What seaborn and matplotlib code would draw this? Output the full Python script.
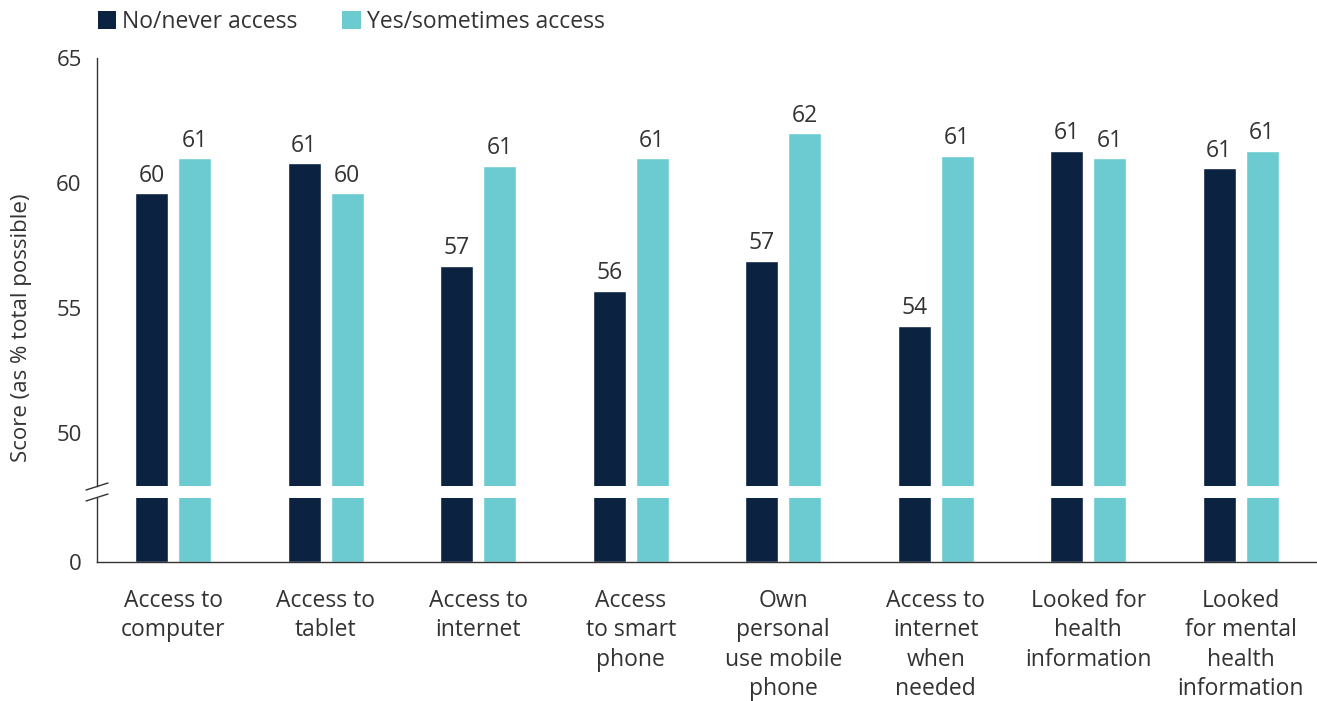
import matplotlib
matplotlib.use("Agg")
import matplotlib.pyplot as plt
from matplotlib.lines import Line2D
from matplotlib.patches import Patch
import pandas as pd
import seaborn as sns

# ---- data -------------------------------------------------------------
categories = [
    "Access to\ncomputer",
    "Access to\ntablet",
    "Access to\ninternet",
    "Access\nto smart\nphone",
    "Own\npersonal\nuse mobile\nphone",
    "Access to\ninternet\nwhen\nneeded",
    "Looked for\nhealth\ninformation",
    "Looked\nfor mental\nhealth\ninformation",
]
series_names = ["No/never access", "Yes/sometimes access"]
no_never = [59.6, 60.8, 56.7, 55.7, 56.9, 54.3, 61.3, 60.6]
yes_sometimes = [61.0, 59.6, 60.7, 61.0, 62.0, 61.1, 61.0, 61.3]
upper_ticks = [50, 55, 60, 65]
lower_ticks = [0]

colors = ["#0b2240", "#6ccbd0"]
text_color = "#333333"
label_size = 16.5
tick_size = 16

sns.set_theme(style="white")
plt.rcParams["font.family"] = ["Open Sans", "DejaVu Sans"]
plt.rcParams["text.color"] = text_color
plt.rcParams["axes.labelcolor"] = text_color
plt.rcParams["xtick.color"] = text_color
plt.rcParams["ytick.color"] = text_color

df = pd.DataFrame({
    "category": categories * 2,
    "group": [series_names[0]] * len(categories) + [series_names[1]] * len(categories),
    "score": no_never + yes_sometimes,
})

W, H = 1317, 701
fig = plt.figure(figsize=(W / 100, H / 100), dpi=100)

left = 97 / W
width = 1 - left
top_axes = fig.add_axes([left, 1 - 486 / H, width, (486 - 58) / H])
bot_axes = fig.add_axes([left, 1 - 562 / H, width, (562 - 498) / H])

for ax in (top_axes, bot_axes):
    sns.barplot(data=df, x="category", y="score", hue="group",
                palette=colors, saturation=1, errorbar=None,
                width=0.564, gap=0.234, legend=False, ax=ax)
    ax.set_xlim(-0.5, len(categories) - 0.5)
    ax.set_xlabel("")
    ax.set_ylabel("")
    for side in ("top", "right"):
        ax.spines[side].set_visible(False)
    ax.spines["left"].set_color(text_color)
    ax.spines["left"].set_linewidth(1.0)
    ax.tick_params(axis="y", length=0, pad=11, labelsize=tick_size)

# upper section of the broken axis
top_axes.set_ylim(47.9, 65)
top_axes.set_yticks(upper_ticks)
top_axes.spines["bottom"].set_visible(False)
top_axes.tick_params(axis="x", length=0, labelbottom=False)
for cont in top_axes.containers:
    top_axes.bar_label(cont, fmt="%.0f", padding=4, fontsize=label_size,
                       color=text_color)

# lower stub section
bot_axes.set_ylim(0, 10)
bot_axes.set_yticks(lower_ticks)
bot_axes.spines["bottom"].set_color(text_color)
bot_axes.spines["bottom"].set_linewidth(1.0)
bot_axes.tick_params(axis="x", length=0, pad=19.5, labelsize=label_size)
for lab in bot_axes.get_xticklabels():
    lab.set_linespacing(1.3)
    lab.set_va("top")
    lab.set_ha("center")

# break marks on the y axis
half_w = 11 / W
rise = 3.5 / H
for yb in (1 - 486.5 / H, 1 - 497.5 / H):
    fig.add_artist(Line2D([left - half_w, left + half_w], [yb - rise, yb + rise],
                          transform=fig.transFigure, color=text_color, lw=1.0))

fig.text(22 / W, 1 - 328 / H, "Score (as % total possible)", rotation=90,
         ha="center", va="center", fontsize=tick_size, color=text_color)

handles = [Patch(facecolor=c, edgecolor="none") for c in colors]
fig.legend(handles, series_names, loc="upper left",
           bbox_to_anchor=(98 / W, 1 - 10 / H), ncol=2, frameon=False,
           handlelength=0.8, handleheight=0.8, handletextpad=0.26,
           columnspacing=1.95, fontsize=label_size, borderaxespad=0,
           borderpad=0)

fig.savefig("out.png", dpi=100)
